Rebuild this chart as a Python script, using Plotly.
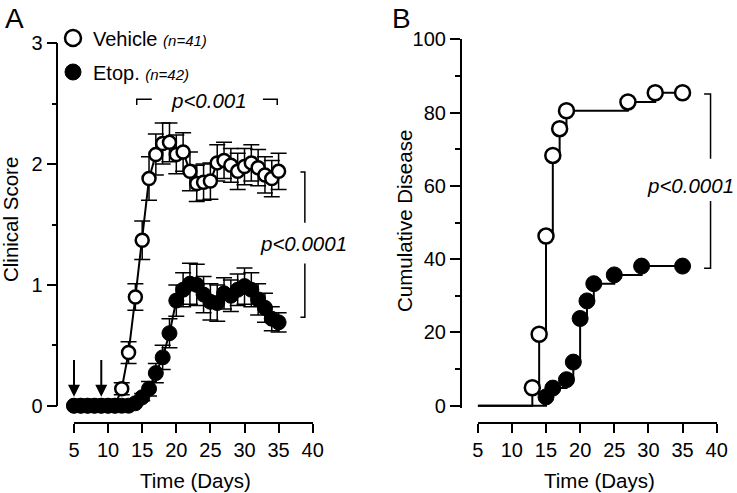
import plotly.graph_objects as go

W, H = 737, 493
FONT = "Liberation Sans, Arial, Helvetica, sans-serif"


def px(x):
    return x / W


def py(y):
    return 1 - y / H


# ---------------- Panel A data: clinical score ----------------
days_a = list(range(5, 36))
veh_a = [0, 0, 0, 0, 0, 0, 0,
         0.14, 0.44, 0.90, 1.37, 1.88, 2.08, 2.17, 2.18, 2.08, 2.10,
         1.94, 1.84, 1.85, 1.86, 2.01, 2.03, 1.99, 1.94, 1.98, 2.01,
         1.97, 1.91, 1.88, 1.94]
veh_a_err = [0, 0, 0, 0, 0, 0, 0,
             0.05, 0.09, 0.11, 0.16, 0.18, 0.17, 0.17, 0.16, 0.16, 0.16,
             0.16, 0.15, 0.15, 0.15, 0.15, 0.15, 0.14, 0.15, 0.15, 0.15,
             0.15, 0.15, 0.15, 0.15]
etop_a = [0, 0, 0, 0, 0, 0, 0, 0, 0,
          0.02, 0.07, 0.14, 0.27, 0.40, 0.60, 0.87, 0.96, 1.01, 1.00,
          0.92, 0.86, 0.85, 0.93, 0.91, 0.96, 0.99, 0.96, 0.88, 0.81,
          0.72, 0.69]
etop_a_err = [0, 0, 0, 0, 0, 0, 0, 0, 0,
              0.02, 0.03, 0.06, 0.08, 0.10, 0.12, 0.13, 0.14, 0.17, 0.17,
              0.15, 0.15, 0.15, 0.13, 0.13, 0.13, 0.15, 0.14, 0.13, 0.12,
              0.10, 0.08]

# ---------------- Panel B data: cumulative disease (%) ----------------
days_b_veh = [5, 13, 14, 15, 16, 17, 18, 27, 31, 35]
veh_b = [0, 4.9, 19.5, 46.3, 68.3, 75.6, 80.5, 82.9, 85.4, 85.4]
days_b_etop = [5, 15, 16, 18, 19, 20, 21, 22, 25, 29, 35]
etop_b = [0, 2.4, 4.8, 7.1, 11.9, 23.8, 28.6, 33.3, 35.7, 38.1, 38.1]

x_ticks = [5, 10, 15, 20, 25, 30, 35, 40]
ya_ticks = [0, 1, 2, 3]
yb_ticks = [0, 20, 40, 60, 80, 100]

legend_names = ['Vehicle <i><span style="font-size:15px">(n=41)</span></i>',
                'Etop. <i><span style="font-size:15px">(n=42)</span></i>']

BLACK = "#000000"
fig = go.Figure()

# Panel A traces
fig.add_trace(go.Scatter(
    x=days_a, y=veh_a, mode="lines+markers", xaxis="x", yaxis="y",
    line=dict(color=BLACK, width=2),
    marker=dict(symbol="circle", size=13, color="white", line=dict(color=BLACK, width=2.5)),
    error_y=dict(type="data", array=veh_a_err, color=BLACK, thickness=1.5, width=8),
    cliponaxis=False, showlegend=False))
fig.add_trace(go.Scatter(
    x=days_a, y=etop_a, mode="lines+markers", xaxis="x", yaxis="y",
    line=dict(color=BLACK, width=2),
    marker=dict(symbol="circle", size=15, color=BLACK, line=dict(color=BLACK, width=1)),
    error_y=dict(type="data", array=etop_a_err, color=BLACK, thickness=1.5, width=8),
    cliponaxis=False, showlegend=False))

# Panel B traces
fig.add_trace(go.Scatter(
    x=days_b_veh, y=veh_b, mode="lines", line_shape="hv", xaxis="x2", yaxis="y2",
    line=dict(color=BLACK, width=2), showlegend=False))
fig.add_trace(go.Scatter(
    x=days_b_veh[1:], y=veh_b[1:], mode="markers", xaxis="x2", yaxis="y2",
    marker=dict(symbol="circle", size=15, color="white", line=dict(color=BLACK, width=2.5)),
    cliponaxis=False, showlegend=False))
fig.add_trace(go.Scatter(
    x=days_b_etop, y=etop_b, mode="lines", line_shape="hv", xaxis="x2", yaxis="y2",
    line=dict(color=BLACK, width=2), showlegend=False))
fig.add_trace(go.Scatter(
    x=days_b_etop[1:], y=etop_b[1:], mode="markers", xaxis="x2", yaxis="y2",
    marker=dict(symbol="circle", size=16, color=BLACK, line=dict(color=BLACK, width=1)),
    cliponaxis=False, showlegend=False))

# Legend-only traces
fig.add_trace(go.Scatter(
    x=[None], y=[None], mode="markers", name=legend_names[0], legend="legend",
    marker=dict(symbol="circle", size=16, color="white", line=dict(color=BLACK, width=2.5))))
fig.add_trace(go.Scatter(
    x=[None], y=[None], mode="markers", name=legend_names[1], legend="legend2",
    marker=dict(symbol="circle", size=17, color=BLACK, line=dict(color=BLACK, width=1))))

axis_common = dict(
    showgrid=False, zeroline=False, showline=True, linecolor=BLACK, linewidth=1.5,
    ticks="outside", tickcolor=BLACK, tickwidth=1.5,
    tickfont=dict(family=FONT, size=20, color=BLACK),
)

# pixel geometry
a_x5, a_x40 = 74.0, 312.7
a_y0, a_y3 = 405.7, 43.3
b_x5, b_x40 = 477.7, 716.7
b_y0, b_y100 = 405.7, 39.3
b_unit = (b_y0 - b_y100) / 100.0
b_ymin = -0.5
x_axis_y = 423.3

fig.update_layout(
    width=W, height=H, margin=dict(l=0, r=0, t=0, b=0, autoexpand=False),
    paper_bgcolor="white", plot_bgcolor="white",
    font=dict(family=FONT, color=BLACK),
    xaxis=dict(axis_common, domain=[px(a_x5), px(a_x40)], range=[5, 40],
               tickvals=x_ticks, ticklen=9, anchor="free", position=py(x_axis_y)),
    yaxis=dict(axis_common, domain=[py(a_y0), py(a_y3)], range=[0, 3],
               tickvals=ya_ticks, ticklen=10, anchor="free", position=px(57.3),
               minor=dict(dtick=0.5, ticklen=5, tickwidth=1.5, tickcolor=BLACK, ticks="outside")),
    xaxis2=dict(axis_common, domain=[px(b_x5), px(b_x40)], range=[5, 40],
                tickvals=x_ticks, ticklen=9, anchor="free", position=py(x_axis_y)),
    yaxis2=dict(axis_common, domain=[py(b_y0 - b_ymin * b_unit), py(b_y100)], range=[b_ymin, 100],
                tickvals=yb_ticks, ticklen=10, anchor="free", position=px(460.7),
                minor=dict(dtick=10, ticklen=5, tickwidth=1.5, tickcolor=BLACK, ticks="outside")),
    legend=dict(x=px(53), y=py(38), xanchor="left", yanchor="middle",
                font=dict(family=FONT, size=20, color=BLACK), bgcolor="rgba(0,0,0,0)",
                itemsizing="trace", borderwidth=0),
    legend2=dict(x=px(53), y=py(72), xanchor="left", yanchor="middle",
                 font=dict(family=FONT, size=20, color=BLACK), bgcolor="rgba(0,0,0,0)",
                 itemsizing="trace", borderwidth=0),
)

ann = []
# panel letters
ann.append(dict(text="A", x=px(3), y=py(19), xref="paper", yref="paper", xanchor="left",
                yanchor="middle", showarrow=False, font=dict(family=FONT, size=28, color=BLACK)))
ann.append(dict(text="B", x=px(390), y=py(19), xref="paper", yref="paper", xanchor="left",
                yanchor="middle", showarrow=False, font=dict(family=FONT, size=28, color=BLACK)))
# axis titles
ann.append(dict(text="Clinical Score", x=px(11), y=py(220), xref="paper", yref="paper",
                textangle=-90, showarrow=False, xanchor="center", yanchor="middle",
                font=dict(family=FONT, size=20.5, color=BLACK)))
ann.append(dict(text="Cumulative Disease", x=px(404), y=py(221), xref="paper", yref="paper",
                textangle=-90, showarrow=False, xanchor="center", yanchor="middle",
                font=dict(family=FONT, size=20.5, color=BLACK)))
for cx in (195, 599):
    ann.append(dict(text="Time (Days)", x=px(cx), y=py(480), xref="paper", yref="paper",
                    showarrow=False, xanchor="center", yanchor="middle",
                    font=dict(family=FONT, size=20.5, color=BLACK)))
# p-values
ann.append(dict(text="<i>p<0.001</i>", x=24.85, y=2.53, xref="x", yref="y", showarrow=False,
                font=dict(family=FONT, size=20.5, color=BLACK)))
ann.append(dict(text="<i>p<0.0001</i>", x=38.6, y=1.34, xref="x", yref="y", showarrow=False,
                font=dict(family=FONT, size=20.5, color=BLACK)))
ann.append(dict(text="<i>p<0.0001</i>", x=36.1, y=60.0, xref="x2", yref="y2", showarrow=False,
                font=dict(family=FONT, size=20.5, color=BLACK)))
# injection arrows
for d in (5, 9):
    ann.append(dict(text="", x=d, y=0.075, ax=d, ay=0.39, xref="x", yref="y", axref="x", ayref="y",
                    showarrow=True, arrowhead=2, arrowsize=1.2, arrowwidth=2, arrowcolor=BLACK))
fig.update_layout(annotations=ann)

shapes = []
ln = dict(color=BLACK, width=1.5)
# p<0.001 bracket (panel A)
shapes.append(dict(type="path", xref="x", yref="y", line=ln,
                   path="M 14.2,2.49 L 14.2,2.537 L 16.4,2.537"))
shapes.append(dict(type="path", xref="x", yref="y", line=ln,
                   path="M 32.7,2.537 L 34.8,2.537 L 34.8,2.49"))
# p<0.0001 bracket (panel A)
shapes.append(dict(type="path", xref="x", yref="y", line=ln,
                   path="M 38.2,1.935 L 38.85,1.935 L 38.85,1.514"))
shapes.append(dict(type="path", xref="x", yref="y", line=ln,
                   path="M 38.85,1.177 L 38.85,0.733 L 38.2,0.733"))
# p<0.0001 bracket (panel B)
shapes.append(dict(type="path", xref="x2", yref="y2", line=ln,
                   path="M 38.15,85.1 L 39.1,85.1 L 39.1,67.4"))
shapes.append(dict(type="path", xref="x2", yref="y2", line=ln,
                   path="M 39.1,55.9 L 39.1,37.5 L 38.15,37.5"))
fig.update_layout(shapes=shapes)

fig.write_html("out.html",
               config={"displayModeBar": False},
               post_script="document.body.style.margin='0';document.body.style.overflow='hidden';")
